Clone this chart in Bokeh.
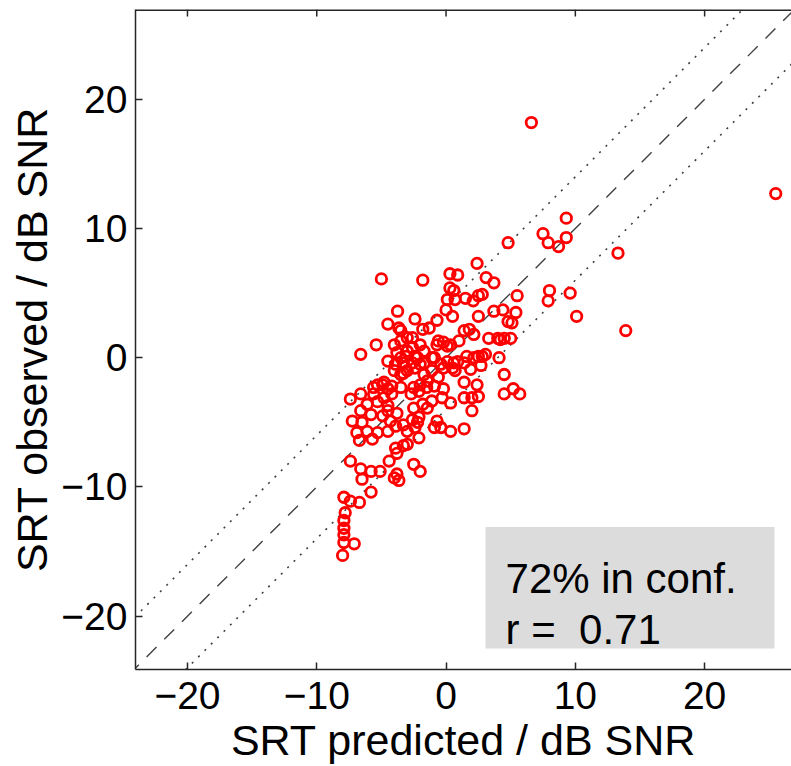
from bokeh.plotting import figure
from bokeh.models import Range1d, Span, BoxAnnotation, Label, FixedTicker
from bokeh.embed import file_html
from bokeh.resources import INLINE

# ---- data ----
srt_predicted = [
    6.6, 25.5, 13.9, 13.3, 9.3, 7.5, 7.9, 8.7, 9.3, 4.8, 8.0, 7.9, 9.6, 10.1, 5.5, 5.4, 5.1, 4.8, 4.4, 5.0, 4.2,
    -5.0, -1.8, 2.4, 0.3, 0.9, 3.1, 3.7, 0.3, 0.6, 0.1, 0.7, 1.5, 2.1, 2.5, 2.8, 0.0, 0.5, 2.5, 3.7,
    -3.75, -4.5, -2.4, -0.7, -3.65, -3.5, -1.8, -1.3, -6.6, -5.4, -4.0, -3.0, -2.6, -0.6, -0.2, 0.1,
    1.0, 1.4, 1.8, 2.15, 3.3, 4.0, 4.5,
    -4.5, -3.5, -3.1, -2.2, -1.7, -1.1, -0.4, 0.1, 0.5, 0.9, 1.6, 2.15, 2.8, 3.05, 4.1, 4.5, 4.5, 5.2, 5.7,
    2.4, 1.4, 1.4, 2.0, 2.5, 2.0,
    -4.0, -3.5, -3.0, -2.4, -1.7, -1.1, -0.6,
    -7.4, -6.6, -5.6, -4.9, -4.5, -6.1, -5.3, -4.5, -3.8, -7.25, -6.5, -6.9, -6.1, -5.3, -4.5, -3.9, -6.7, -5.7,
    -2.7, -2.1, -1.5, -0.9, -2.5, -1.8, -1.1, -0.3, -2.6, -2.1, -3.0, -2.4, -0.9, -0.4, 0.35, 1.4,
    -3.9, -3.8, -3.0, -2.5, -2.0, -7.4, -6.6, -5.8, -5.1, -4.4, -3.8,
    -7.9, -7.4, -6.7, -5.8, -7.8, -7.9, -7.9, -7.9, -7.9, -7.1, -8.0, -4.0, -3.65,
    -6.5, -3.3, -2.1,
    -0.7, 0.35, -0.9, 0.6, 1.4, 2.5, -0.2, 0.7, 1.9, 2.7, -0.2, 0.35, -0.7,
    -3.3, -4.2, -3.5, -5.3, -4.8, -5.6, -4.8, -4.2, -2.5, -2.0, -1.45, -1.45,
    -6.6, -5.8, -4.9, -4.5, -4.3, -3.3, -2.2,
    -3.5, -2.6, -2.0, -3.8, -3.0, -2.4, -1.7, -3.9, -3.3, -2.6, -2.0,
]
srt_observed = [
    18.2, 12.7, 2.1, 8.1, 10.8, 9.6, 8.9, 8.6, 9.3, 8.9, 5.2, 4.4, 5.0, 3.2, 4.8, 3.5, 2.7, 2.8, 3.7, 1.5, 1.4,
    6.1, 6.0, 7.3, 6.5, 6.4, 6.2, 5.8, 5.4, 5.2, 4.5, 4.5, 4.6, 4.4, 4.8, 4.9, 3.7, 3.2, 3.2, 3.6,
    3.6, 2.6, 3.0, 2.9, 2.3, 2.1, 2.2, 2.3, 0.26, 1.0, 1.0, 1.55, 0.8, 1.3, 1.2, 0.9,
    1.3, 2.1, 2.2, 1.8, 1.5, 1.5, 1.5,
    -0.26, 0.0, 0.1, 0.0, -0.4, 0.0, -0.5, -0.3, -0.8, -0.3, 0.1, 0.0, 0.1, 0.26, 0.0, -1.3, -2.8, -2.4, -2.8,
    -2.1, -1.9, -3.1, -3.1, -3.0, -4.1,
    -1.0, -1.3, -1.0, -0.8, -1.3, -1.0, -1.5,
    -3.2, -2.8, -2.3, -2.1, -2.4, -3.6, -3.4, -3.7, -4.3, -4.9, -5.0, -5.8, -5.7, -5.8, -5.7, -5.3, -6.4, -6.3,
    -2.8, -2.6, -2.3, -2.2, -3.9, -3.6, -3.35, -3.1, -4.8, -4.6, -5.7, -5.4, -5.4, -5.4, -5.7, -5.5,
    -7.0, -7.4, -6.7, -8.25, -8.8, -8.0, -8.6, -8.8, -8.8, -8.0, -9.0,
    -10.8, -11.1, -11.2, -10.4, -12.0, -12.6, -13.2, -13.7, -14.3, -14.4, -15.3, -9.3, -9.5,
    -9.4, -6.8, -6.2,
    1.0, 1.0, 0.0, -0.4, -0.4, 0.1, -0.8, -1.0, -0.9, -0.6, -2.4, -3.5, -4.9,
    -1.2, -2.2, -2.3, -2.1, -1.9, -2.8, -3.1, -2.8, -2.3, -2.1, -1.8, -3.9,
    -4.1, -4.4, -4.5, -4.1, -4.9, -5.2, -5.0,
    1.3, 1.55, 1.0, 0.4, 0.5, 0.1, 0.5, -0.5, -0.4, -0.4, -0.5,
]
ticks = [-20, -10, 0, 10, 20]
tick_labels = {-20: "\u221220", -10: "\u221210", 0: "0", 10: "10", 20: "20"}
conf_offset = 4.0
diag_x = [-30, 30]
info_lines = ["72% in conf.", "r = \u00a00.71"]

FONT = "Liberation Sans"
AX = "#262626"
X0, X1 = -24.02, 26.72
Y0, Y1 = -24.13, 26.95

p = figure(width=791, height=766,
           x_range=Range1d(X0, X1), y_range=Range1d(Y0, Y1),
           output_backend="svg", toolbar_location=None,
           min_border_left=135, min_border_right=0, min_border_top=9, min_border_bottom=97)
p.outline_line_color = None
p.grid.visible = False
p.background_fill_color = "white"
p.border_fill_color = "white"

for ax in (p.xaxis[0], p.yaxis[0]):
    ax.ticker = FixedTicker(ticks=ticks)
    ax.major_label_overrides = tick_labels
    ax.major_tick_in = 7
    ax.major_tick_out = 0
    ax.minor_tick_line_color = None
    ax.axis_line_color = AX
    ax.axis_line_width = 1.5
    ax.major_tick_line_color = AX
    ax.major_tick_line_width = 1.5
    ax.major_label_text_font = FONT
    ax.major_label_text_font_size = "39px"
    ax.major_label_text_color = "black"
    ax.axis_label_text_font = FONT
    ax.axis_label_text_font_size = "43px"
    ax.axis_label_text_font_style = "normal"
    ax.axis_label_text_color = "black"

p.xaxis.axis_label = "SRT predicted / dB SNR"
p.yaxis.axis_label = "SRT observed / dB SNR"
p.xaxis.major_label_standoff = 12
p.xaxis.axis_label_standoff = 4
p.yaxis.major_label_standoff = 8
p.yaxis.axis_label_standoff = 2

# top border of the box with inward ticks
p.add_layout(Span(location=Y1, dimension="width", line_color=AX, line_width=3))
tick_len = (Y1 - Y0) * 7 / 660
p.segment(x0=ticks, y0=[Y1] * len(ticks), x1=ticks, y1=[Y1 - tick_len] * len(ticks),
          line_color=AX, line_width=1.5)

# reference lines
p.line(diag_x, diag_x, line_color="#404040", line_width=1.4, line_dash="14 11")
p.line(diag_x, [v + conf_offset for v in diag_x], line_color="#404040", line_width=1.6, line_dash="2 7")
p.line(diag_x, [v - conf_offset for v in diag_x], line_color="#404040", line_width=1.6, line_dash="2 7")

p.scatter(srt_predicted, srt_observed, marker="circle", size=10.5, fill_color=None,
          line_color="#ff0000", line_width=2.8)

box = BoxAnnotation(left=3.05, right=25.4, top=-13.1, bottom=-22.5,
                    fill_color="#dcdcdc", fill_alpha=1.0, line_color=None)
p.add_layout(box)
for txt, yb in zip(info_lines, [-17.05, -21.0]):
    p.add_layout(Label(x=4.6, y=yb, text=txt, text_font=FONT, text_font_size="42px",
                       text_color="black", text_baseline="alphabetic", text_align="left"))

open("out.html", "w").write(file_html(p, INLINE))
